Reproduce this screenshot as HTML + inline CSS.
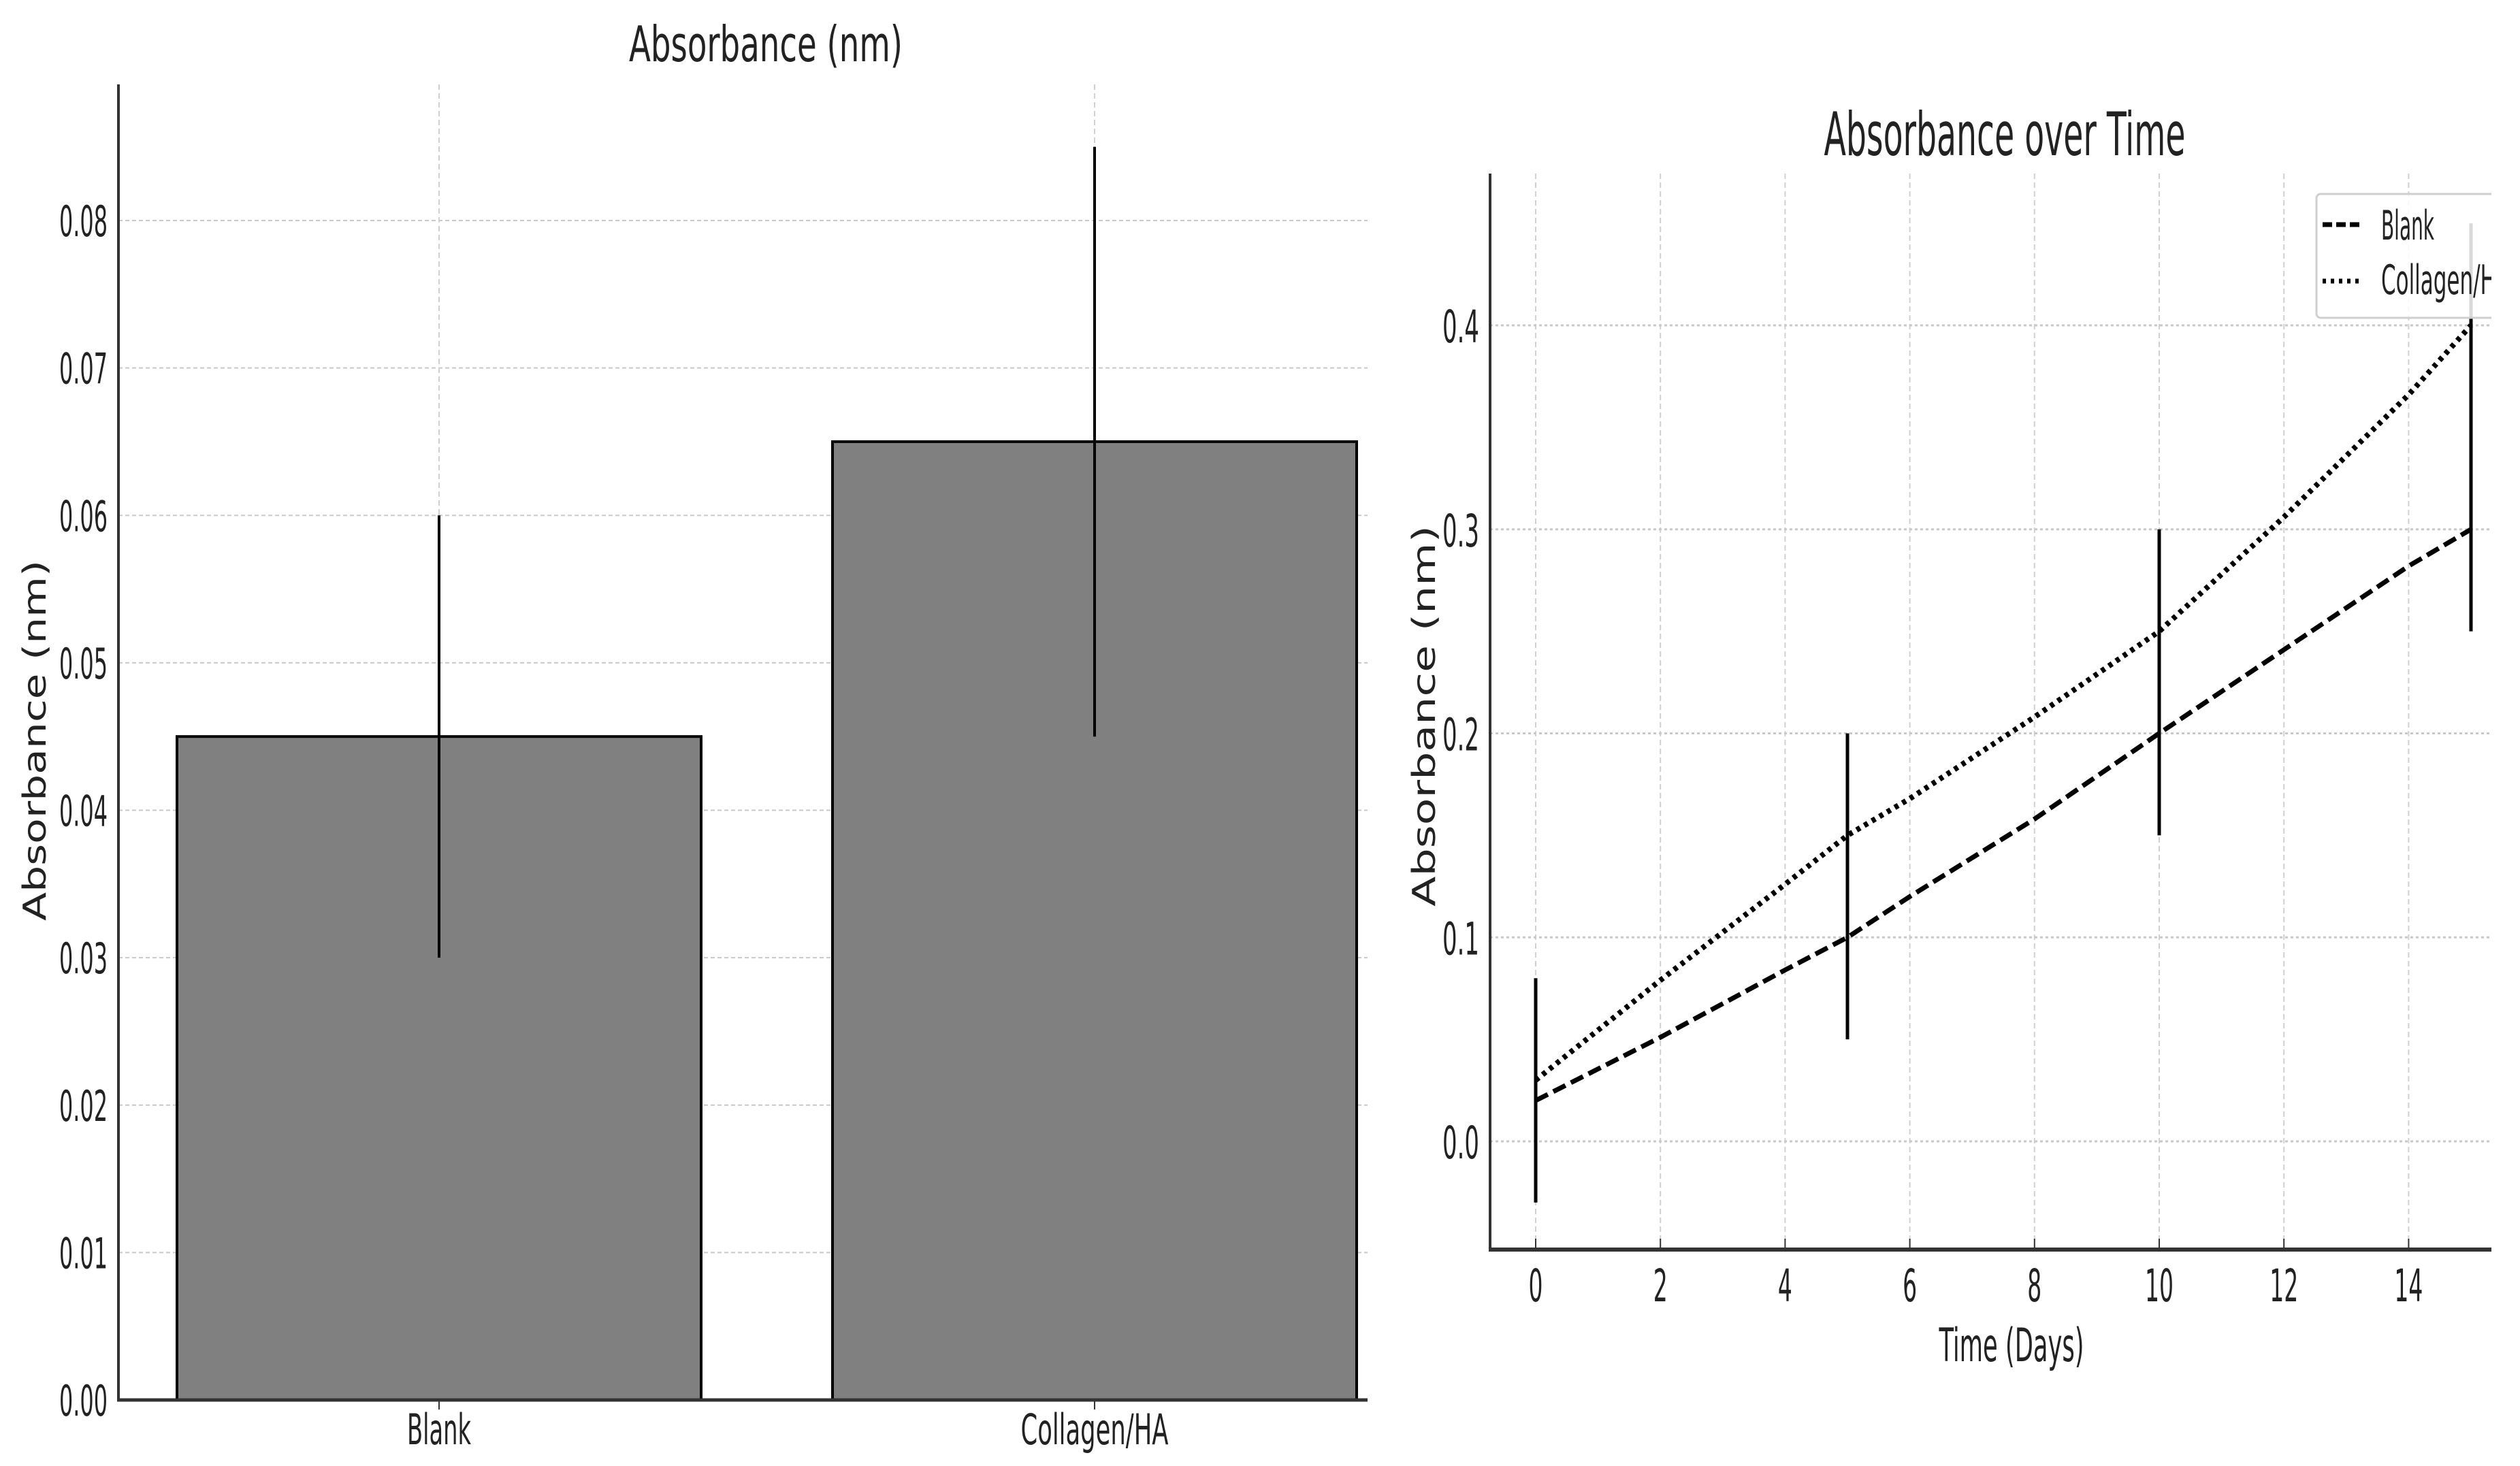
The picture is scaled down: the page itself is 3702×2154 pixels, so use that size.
<!DOCTYPE html>
<html><head><meta charset="utf-8">
<style>
html,body{margin:0;padding:0;background:#fff;}
svg{display:block;}
.n{font-family:"Liberation Sans Narrow","DejaVu Sans Condensed","Liberation Sans",sans-serif;fill:#222;}
.w{font-family:"DejaVu Sans","Liberation Sans",sans-serif;fill:#222;}
</style></head>
<body>
<svg id="svg" width="3702" height="2154" viewBox="0 0 3702 2154" xmlns="http://www.w3.org/2000/svg">
<defs><clipPath id="rc"><rect x="0" y="0" width="3660" height="2154"/></clipPath></defs>
<g id="left"></g>
<g id="right" clip-path="url(#rc)"></g>
</svg>
<script>
// ---- Bar chart data ----
const barCats = ["Blank", "Collagen/HA"];
const barVals = [0.045, 0.065];
const barErrLow = [0.030, 0.045];
const barErrHigh = [0.060, 0.085];
const barTicks = [0, 0.01, 0.02, 0.03, 0.04, 0.05, 0.06, 0.07, 0.08];
const barTickLabels = ["0.00","0.01","0.02","0.03","0.04","0.05","0.06","0.07","0.08"];

// ---- Line chart data ----
const days = [0, 2, 4, 5, 6, 8, 10, 12, 14, 15];
const blankVals = [0.02, 0.051, 0.084, 0.10, 0.12, 0.158, 0.20, 0.241, 0.282, 0.30];
const collagenVals = [0.03, 0.079, 0.126, 0.15, 0.168, 0.208, 0.25, 0.306, 0.366, 0.40];
const errDays = [0, 5, 10, 15];
const errLow = [-0.03, 0.05, 0.15, 0.25];
const errHigh = [0.08, 0.20, 0.30, 0.45];
const xTicks = [0, 2, 4, 6, 8, 10, 12, 14];
const yTicks = [0.0, 0.1, 0.2, 0.3, 0.4];
const yTickLabels = ["0.0","0.1","0.2","0.3","0.4"];

const NS = "http://www.w3.org/2000/svg";
function mk(parent, tag, attrs, text){
  const e = document.createElementNS(NS, tag);
  for (const k in attrs) e.setAttribute(k, attrs[k]);
  if (text !== undefined) e.textContent = text;
  parent.appendChild(e);
  return e;
}

// ===== Left bar chart =====
const L = document.getElementById('left');
const lx0 = 174, lx1 = 2009, ly0 = 2057, lyTop = 124;
const lPer = (2057 - 324) / 0.08;
const ly = v => ly0 - v * lPer;
const bandStart = 260, bandStep = 963, barW = 770;
const bx = i => bandStart + i * bandStep;
const bc = i => bx(i) + barW / 2;

barTicks.forEach((t, i) => {
  if (t > 0) {
    const g = mk(L, 'line', {x1: lx0, x2: lx1, y1: ly(t), y2: ly(t), stroke: '#c8c8c8', 'stroke-width': 2, 'stroke-dasharray': '6 4'});
    
    
  }
  const tl = mk(L, 'text', {x: 158, y: ly(t) + 23, 'text-anchor': 'end', 'font-size': 62, class: 'n', textLength: 71, lengthAdjust: 'spacingAndGlyphs'}, barTickLabels[i]);
  
  
});
barCats.forEach((c, i) => {
  const g = mk(L, 'line', {x1: bc(i), x2: bc(i), y1: lyTop, y2: ly0, stroke: '#d0d0d0', 'stroke-width': 2, 'stroke-dasharray': '8 5'});
  
  
});
barCats.forEach((c, i) => {
  const r = mk(L, 'rect', {x: bx(i), y: ly(barVals[i]), width: barW, height: ly0 - ly(barVals[i]), fill: '#808080', stroke: '#000', 'stroke-width': 4});
  
  
  const e = mk(L, 'line', {x1: bc(i), x2: bc(i), y1: ly(barErrLow[i]), y2: ly(barErrHigh[i]), stroke: '#000', 'stroke-width': 4});
  
  
  const tk = mk(L, 'line', {x1: bc(i), x2: bc(i), y1: ly0, y2: ly0 + 14, stroke: '#333', 'stroke-width': 2});
  
  
  const lab = mk(L, 'text', {x: bc(i), y: 2122, 'text-anchor': 'middle', 'font-size': 62, class: 'n', textLength: i === 0 ? 94 : 217, lengthAdjust: 'spacingAndGlyphs'}, c);
  
  
});
{
  const s1 = mk(L, 'line', {x1: lx0, x2: lx0, y1: lyTop, y2: ly0 + 2, stroke: '#333', 'stroke-width': 4});
  
  
  const s2 = mk(L, 'line', {x1: lx0 - 2, x2: lx1, y1: ly0, y2: ly0, stroke: '#333', 'stroke-width': 5});
  
  
  const t = mk(L, 'text', {x: 1125, y: 90, 'text-anchor': 'middle', 'font-size': 72, class: 'n', textLength: 402, lengthAdjust: 'spacingAndGlyphs'}, 'Absorbance (nm)');
  
  
  const yl = mk(L, 'text', {x: 0, y: 0, 'text-anchor': 'middle', 'font-size': 46, class: 'w', textLength: 530, lengthAdjust: 'spacingAndGlyphs', transform: 'translate(67,1088) rotate(-90)'}, 'Absorbance (nm)');
  
  
}

// ===== Right line chart =====
const R = document.getElementById('right');
const rSpine = 2189, rRight = 3700, rTop = 255, rBottom = 1836;
const rx = d => 2256 + d * 91.6;
const ryPer = (1677 - 478) / 0.4;
const ry = v => 1677 - v * ryPer;

xTicks.forEach(d => {
  const g = mk(R, 'line', {x1: rx(d), x2: rx(d), y1: rTop, y2: rBottom, stroke: '#d0d0d0', 'stroke-width': 2, 'stroke-dasharray': '8 5'});
  
  
  const tk = mk(R, 'line', {x1: rx(d), x2: rx(d), y1: rBottom - 16, y2: rBottom, stroke: '#333', 'stroke-width': 2});
  
  
  const s = String(d);
  const tl = mk(R, 'text', {x: rx(d), y: 1912, 'text-anchor': 'middle', 'font-size': 66, class: 'n', textLength: s.length * 21, lengthAdjust: 'spacingAndGlyphs'}, s);
  
  
});
yTicks.forEach((v, i) => {
  const g = mk(R, 'line', {x1: rSpine, x2: rRight, y1: ry(v), y2: ry(v), stroke: '#c8c8c8', 'stroke-width': 3, 'stroke-dasharray': '4 4'});
  
  
  const tl = mk(R, 'text', {x: 2173, y: ry(v) + 25, 'text-anchor': 'end', 'font-size': 66, class: 'n', textLength: 54, lengthAdjust: 'spacingAndGlyphs'}, yTickLabels[i]);
  
  
});
{
  const pts1 = days.map((d, i) => rx(d) + ',' + ry(blankVals[i])).join(' ');
  const l1 = mk(R, 'polyline', {points: pts1, fill: 'none', stroke: '#000', 'stroke-width': 7, 'stroke-dasharray': '20 9'});
  
  
  const pts2 = days.map((d, i) => rx(d) + ',' + ry(collagenVals[i])).join(' ');
  const l2 = mk(R, 'polyline', {points: pts2, fill: 'none', stroke: '#000', 'stroke-width': 8, 'stroke-dasharray': '6 7'});
  
  
}
errDays.forEach((d, i) => {
  const e = mk(R, 'line', {x1: rx(d), x2: rx(d), y1: ry(errLow[i]), y2: ry(errHigh[i]), stroke: '#000', 'stroke-width': 5});
  
  
});
{
  const s1 = mk(R, 'line', {x1: rSpine, x2: rSpine, y1: rTop, y2: rBottom + 2, stroke: '#333', 'stroke-width': 4});
  
  
  const s2 = mk(R, 'line', {x1: rSpine - 2, x2: rRight, y1: rBottom, y2: rBottom, stroke: '#333', 'stroke-width': 6});
  
  
  const t = mk(R, 'text', {x: 2945, y: 228, 'text-anchor': 'middle', 'font-size': 88, class: 'n', textLength: 531, lengthAdjust: 'spacingAndGlyphs'}, 'Absorbance over Time');
  
  
  const xl = mk(R, 'text', {x: 2955, y: 2000, 'text-anchor': 'middle', 'font-size': 68, class: 'n', textLength: 213, lengthAdjust: 'spacingAndGlyphs'}, 'Time (Days)');
  
  
  const yl = mk(R, 'text', {x: 0, y: 0, 'text-anchor': 'middle', 'font-size': 46, class: 'w', textLength: 560, lengthAdjust: 'spacingAndGlyphs', transform: 'translate(2108,1052) rotate(-90)'}, 'Absorbance (nm)');
  
  

  const lg = mk(R, 'g', {});
  
  
  const box = mk(lg, 'rect', {x: 3403, y: 285, width: 400, height: 182, rx: 6, fill: '#fff', 'fill-opacity': 0.85, stroke: '#cfcfcf', 'stroke-width': 3});
  
  
  const ls1 = mk(lg, 'line', {x1: 3412, x2: 3472, y1: 330, y2: 330, stroke: '#000', 'stroke-width': 7, 'stroke-dasharray': '14 6'});
  
  
  const lt1 = mk(lg, 'text', {x: 3498, y: 352, 'font-size': 60, class: 'n', textLength: 78, lengthAdjust: 'spacingAndGlyphs'}, 'Blank');
  
  
  const ls2 = mk(lg, 'line', {x1: 3412, x2: 3472, y1: 413, y2: 413, stroke: '#000', 'stroke-width': 7, 'stroke-dasharray': '5 7'});
  
  
  const lt2 = mk(lg, 'text', {x: 3498, y: 432, 'font-size': 60, class: 'n', textLength: 190, lengthAdjust: 'spacingAndGlyphs'}, 'Collagen/HA');
  
  
}
</script>
</body></html>
